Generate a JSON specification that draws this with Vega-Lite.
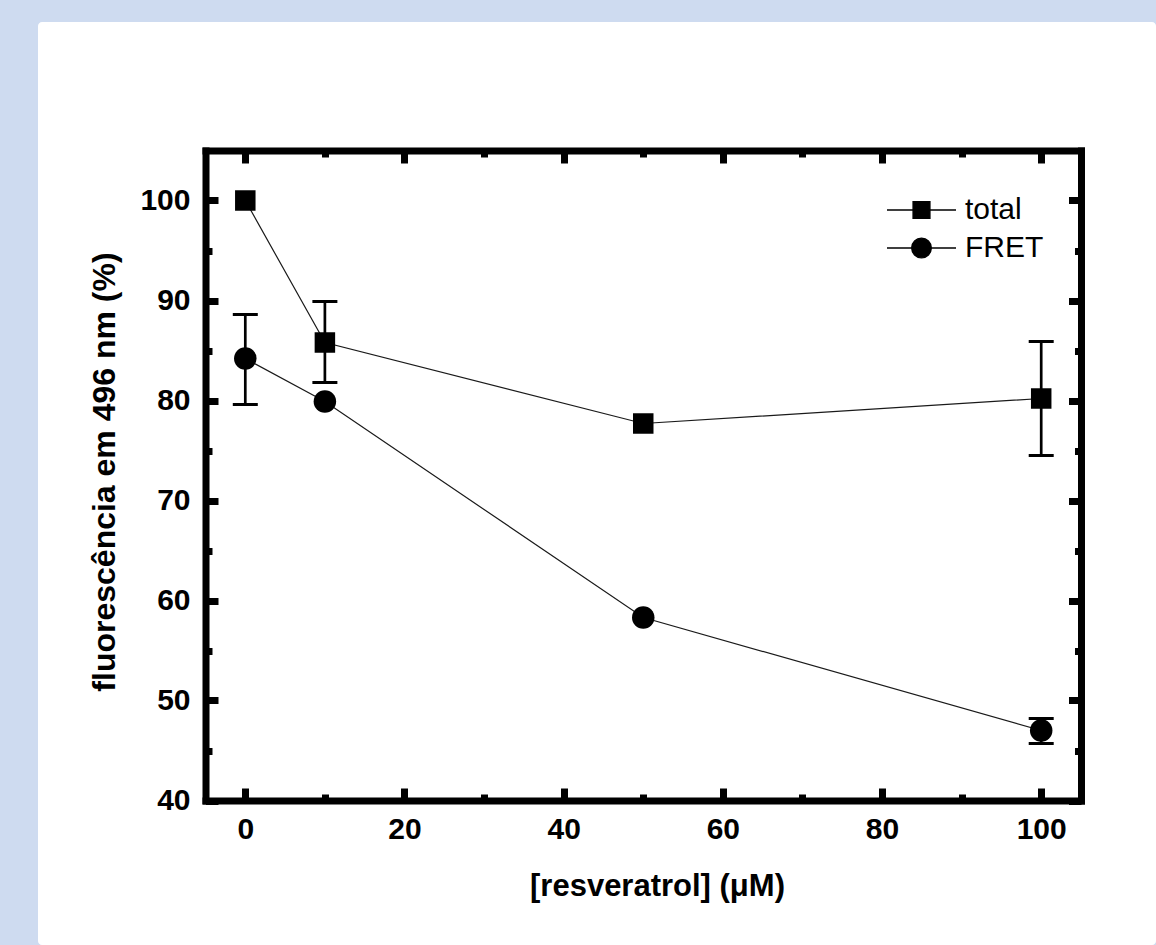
{
  "$schema": "https://vega.github.io/schema/vega-lite/v6.json",
  "width": 1118,
  "height": 923,
  "padding": {"left": 38, "top": 22, "right": 0, "bottom": 0},
  "autosize": {"type": "pad"},
  "background": "#cedbf0",
  "config": {
    "font": "Liberation Sans",
    "view": {"stroke": null, "fill": "white", "cornerRadius": 4},
    "axis": {"grid": false}
  },
  "data": {
    "values": [
      {"c": 0, "s": "total", "v": 100},
      {"c": 10, "s": "total", "v": 85.8, "lo": 81.8, "hi": 89.9},
      {"c": 50, "s": "total", "v": 77.7},
      {"c": 100, "s": "total", "v": 80.2, "lo": 74.5, "hi": 85.9},
      {"c": 0, "s": "FRET", "v": 84.2, "lo": 79.6, "hi": 88.6},
      {"c": 10, "s": "FRET", "v": 79.9},
      {"c": 50, "s": "FRET", "v": 58.3},
      {"c": 100, "s": "FRET", "v": 47.0, "lo": 45.7, "hi": 48.2}
    ]
  },
  "layer": [
    {
      "mark": {"type": "line", "color": "#1a1a1a", "strokeWidth": 1.2},
      "encoding": {
        "x": {"field": "c", "type": "quantitative",
          "scale": {"domain": [-5, 105], "range": [167.5, 1043], "nice": false, "zero": false},
          "axis": {"orient": "bottom", "offset": -144.5, "values": [10, 30, 50, 70, 90], "tickSize": -6.5, "tickWidth": 7, "tickColor": "black", "domain": false, "labels": false, "title": null}},
        "y": {"field": "v", "type": "quantitative",
          "scale": {"domain": [40, 105], "range": [778.5, 128.5], "nice": false, "zero": false},
          "axis": {"orient": "left", "offset": -167.5, "values": [45, 55, 65, 75, 85, 95], "tickSize": -6.5, "tickWidth": 7, "tickColor": "black", "domain": false, "labels": false, "title": null}},
        "detail": {"field": "s", "type": "nominal"}
      }
    },
    {
      "transform": [{"filter": "isValid(datum.lo)"}],
      "mark": {"type": "rule", "color": "black", "strokeWidth": 2.7},
      "encoding": {
        "x": {"field": "c", "type": "quantitative", "scale": {"domain": [-5, 105], "range": [167.5, 1043], "nice": false, "zero": false}, "axis": null},
        "y": {"field": "lo", "type": "quantitative", "scale": {"domain": [40, 105], "range": [778.5, 128.5], "nice": false, "zero": false}, "axis": null},
        "y2": {"field": "hi"}
      }
    },
    {
      "transform": [{"filter": "isValid(datum.lo)"}],
      "mark": {"type": "tick", "orient": "horizontal", "color": "black", "size": 25, "thickness": 3, "opacity": 1},
      "encoding": {
        "x": {"field": "c", "type": "quantitative", "scale": {"domain": [-5, 105], "range": [167.5, 1043], "nice": false, "zero": false}, "axis": null},
        "y": {"field": "lo", "type": "quantitative", "scale": {"domain": [40, 105], "range": [778.5, 128.5], "nice": false, "zero": false}, "axis": null}
      }
    },
    {
      "transform": [{"filter": "isValid(datum.hi)"}],
      "mark": {"type": "tick", "orient": "horizontal", "color": "black", "size": 25, "thickness": 3, "opacity": 1},
      "encoding": {
        "x": {"field": "c", "type": "quantitative", "scale": {"domain": [-5, 105], "range": [167.5, 1043], "nice": false, "zero": false}, "axis": null},
        "y": {"field": "hi", "type": "quantitative", "scale": {"domain": [40, 105], "range": [778.5, 128.5], "nice": false, "zero": false}, "axis": null}
      }
    },
    {
      "transform": [{"filter": "datum.s === 'total'"}],
      "mark": {"type": "point", "shape": "square", "filled": true, "size": 420, "color": "black", "opacity": 1},
      "encoding": {
        "x": {"field": "c", "type": "quantitative",
          "scale": {"domain": [-5, 105], "range": [167.5, 1043], "nice": false, "zero": false},
          "axis": {"orient": "bottom", "offset": -144.5, "values": [0, 20, 40, 60, 80, 100], "tickSize": -12.5, "tickWidth": 7, "tickColor": "black",
            "domain": true, "domainColor": "black", "domainWidth": 7, "domainCap": "square",
            "labelFont": "Liberation Sans", "labelFontWeight": "bold", "labelFontSize": 30, "labelColor": "black", "labelPadding": 26.5, "labelFlush": false, "labelOverlap": false,
            "title": "[resveratrol] (μM)", "titleFont": "Liberation Sans", "titleFontWeight": "bold", "titleFontSize": 31, "titleColor": "black", "titlePadding": 27,
            "titleX": 619}},
        "y": {"field": "v", "type": "quantitative",
          "scale": {"domain": [40, 105], "range": [778.5, 128.5], "nice": false, "zero": false},
          "axis": {"orient": "left", "offset": -167.5, "values": [40, 50, 60, 70, 80, 90, 100], "tickSize": -12.5, "tickWidth": 7, "tickColor": "black",
            "domain": true, "domainColor": "black", "domainWidth": 7, "domainCap": "square",
            "labelFont": "Liberation Sans", "labelFontWeight": "bold", "labelFontSize": 30, "labelColor": "black", "labelPadding": 28, "labelFlush": false, "labelOverlap": false,
            "title": "fluorescência em 496 nm (%)", "titleFont": "Liberation Sans", "titleFontWeight": "bold", "titleFontSize": 32, "titleColor": "black", "titlePadding": 18,
            "titleY": 449.5}}
      }
    },
    {
      "transform": [{"filter": "datum.s === 'FRET'"}],
      "mark": {"type": "point", "shape": "circle", "filled": true, "size": 506, "color": "black", "opacity": 1},
      "encoding": {
        "x": {"field": "c", "type": "quantitative",
          "scale": {"domain": [-5, 105], "range": [167.5, 1043], "nice": false, "zero": false},
          "axis": {"orient": "top", "offset": -128.5, "values": [0, 20, 40, 60, 80, 100], "tickSize": -12.5, "tickWidth": 7, "tickColor": "black",
            "domain": true, "domainColor": "black", "domainWidth": 7, "domainCap": "square", "labels": false, "title": null}},
        "y": {"field": "v", "type": "quantitative",
          "scale": {"domain": [40, 105], "range": [778.5, 128.5], "nice": false, "zero": false},
          "axis": {"orient": "right", "offset": -75, "values": [40, 50, 60, 70, 80, 90, 100], "tickSize": -12.5, "tickWidth": 7, "tickColor": "black",
            "domain": true, "domainColor": "black", "domainWidth": 7, "domainCap": "square", "labels": false, "title": null}}
      }
    },
    {
      "transform": [{"filter": "false"}],
      "mark": {"type": "point", "filled": false, "fill": "black", "stroke": "black", "strokeWidth": 1.3, "opacity": 1},
      "encoding": {
        "x": {"field": "c", "type": "quantitative",
          "scale": {"domain": [-5, 105], "range": [167.5, 1043], "nice": false, "zero": false},
          "axis": {"orient": "top", "offset": -128.5, "values": [10, 30, 50, 70, 90], "tickSize": -6.5, "tickWidth": 7, "tickColor": "black", "domain": false, "labels": false, "title": null}},
        "y": {"field": "v", "type": "quantitative",
          "scale": {"domain": [40, 105], "range": [778.5, 128.5], "nice": false, "zero": false},
          "axis": {"orient": "right", "offset": -75, "values": [45, 55, 65, 75, 85, 95], "tickSize": -6.5, "tickWidth": 7, "tickColor": "black", "domain": false, "labels": false, "title": null}},
        "shape": {"field": "s", "type": "nominal",
          "scale": {"domain": ["total", "FRET"], "range": ["M-1,0H1M-0.245,-0.245H0.245V0.245H-0.245Z", "M-1,0H1M-0.285,0A0.285,0.285,0,1,1,0.285,0A0.285,0.285,0,1,1,-0.285,0Z"]},
          "legend": {"orient": "none", "legendX": 848, "legendY": 169, "title": null, "padding": 0, "rowPadding": 0, "clipHeight": 38,
            "symbolSize": 4761, "labelOffset": 8, "labelFont": "Liberation Sans", "labelFontSize": 30, "labelFontWeight": "normal", "labelColor": "black", "labelBaseline": "middle",
            "symbolStrokeWidth": 1.3, "symbolOpacity": 1}}
      }
    }
  ],
  "resolve": {"scale": {"x": "shared", "y": "shared"}, "axis": {"x": "independent", "y": "independent"}}
}
